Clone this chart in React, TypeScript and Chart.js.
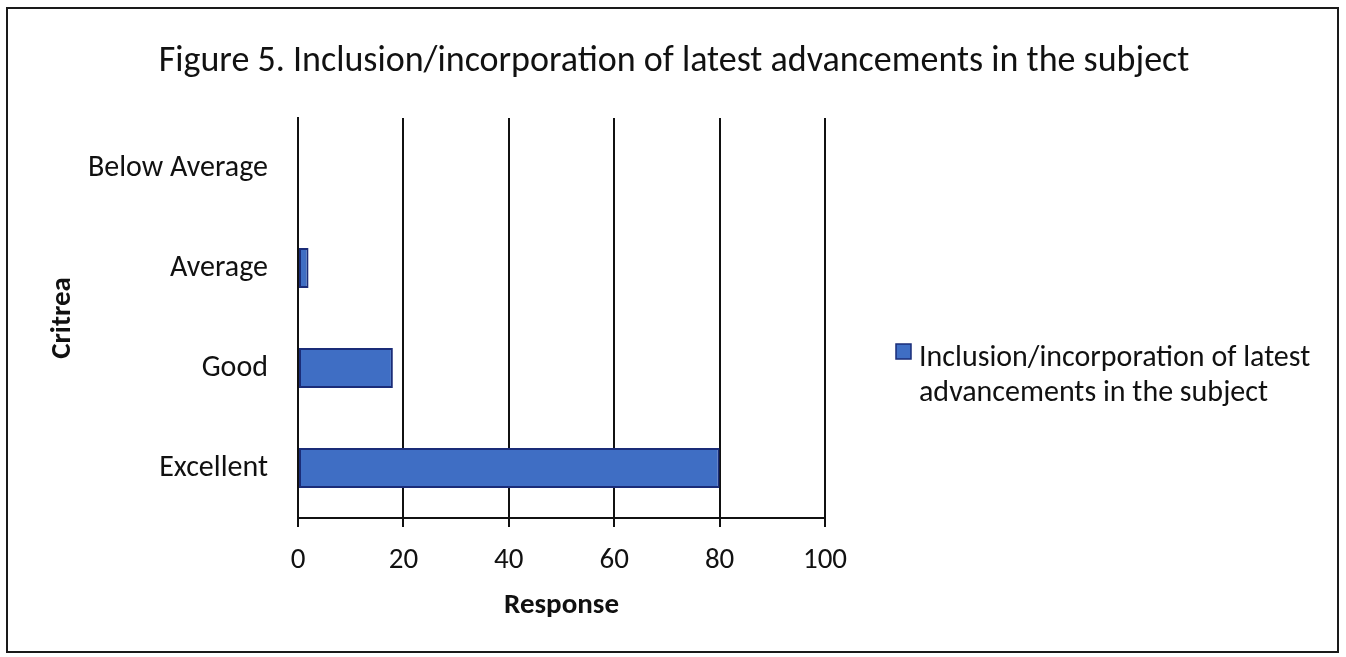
import { useEffect, useRef } from 'react';
import { Chart, registerables } from 'chart.js';
Chart.register(...registerables);

const TITLE = 'Figure 5. Inclusion/incorporation of latest advancements in the subject';
const categories = ['Below Average', 'Average', 'Good', 'Excellent'];
const responses = [0, 2, 18, 80];
const seriesLabel = 'Inclusion/incorporation of latest advancements in the subject';
const legendLines = ['Inclusion/incorporation of latest', 'advancements in the subject'];
const xTickValues = [0, 20, 40, 60, 80, 100];
const xAxisTitle = 'Response';
const yAxisTitle = 'Critrea';

const FONT = 'Carlito, Lato, "Open Sans", sans-serif';
const BAR_FILL = '#3f6ec4';
const BAR_EDGE = '#1a2c78';

const decorPlugin = {
  id: 'decor',
  afterDraw(chart: any) {
    const ctx = chart.ctx;
    ctx.save();
    ctx.fillStyle = '#111';
    ctx.font = `36px ${FONT}`;
    ctx.textAlign = 'center';
    ctx.textBaseline = 'middle';
    ctx.fillText(TITLE, 666, 53);
    // legend
    ctx.fillStyle = BAR_FILL;
    ctx.fillRect(888, 335, 15, 15);
    ctx.strokeStyle = BAR_EDGE;
    ctx.lineWidth = 1.5;
    ctx.strokeRect(888, 335, 15, 15);
    ctx.fillStyle = '#111';
    ctx.font = `30px ${FONT}`;
    ctx.textAlign = 'left';
    ctx.fillText(legendLines[0], 911, 349);
    ctx.fillText(legendLines[1], 911, 384);
    ctx.restore();
  },
};

export default function App() {
  const ref = useRef<HTMLCanvasElement>(null);
  useEffect(() => {
    if (!ref.current) return;
    const chart = new Chart(ref.current, {
      type: 'bar',
      data: {
        labels: categories,
        datasets: [
          {
            label: seriesLabel,
            data: responses,
            backgroundColor: BAR_FILL,
            borderColor: BAR_EDGE,
            borderWidth: 2,
            borderSkipped: false,
            barPercentage: 0.4,
            categoryPercentage: 1,
          },
        ],
      },
      options: {
        indexAxis: 'y',
        animation: false,
        responsive: false,
        layout: { padding: { left: 33, right: 512, top: 109, bottom: 24 } },
        plugins: { legend: { display: false }, title: { display: false }, tooltip: { enabled: false } },
        scales: {
          x: {
            min: 0,
            max: 100,
            afterBuildTicks: (s: any) => {
              s.ticks = xTickValues.map((v) => ({ value: v }));
            },
            afterFit: (s: any) => {
              s.height = 109;
            },
            grid: { color: '#111', lineWidth: 2, tickLength: 9, drawTicks: true },
            border: { color: '#111', width: 2 },
            ticks: { color: '#111', font: { family: FONT, size: 29 }, padding: 16 },
            title: { display: true, text: xAxisTitle, color: '#111', font: { family: FONT, size: 29, weight: 'bold' } },
          },
          y: {
            afterFit: (s: any) => {
              s.width = 257;
            },
            grid: { display: false, drawTicks: false },
            border: { color: '#111', width: 2 },
            ticks: { color: '#111', font: { family: FONT, size: 30 }, padding: 30 },
            title: { display: true, text: yAxisTitle, color: '#111', font: { family: FONT, size: 29, weight: 'bold' } },
          },
        },
      },
      plugins: [decorPlugin],
    });
    return () => chart.destroy();
  }, []);
  return (
    <div
      style={{
        position: 'absolute',
        left: 6,
        top: 7,
        width: 1333,
        height: 646,
        border: '2px solid #1a1a1a',
        boxSizing: 'border-box',
        background: '#fff',
      }}
    >
      <canvas ref={ref} width={1329} height={642} style={{ display: 'block' }} />
    </div>
  );
}
